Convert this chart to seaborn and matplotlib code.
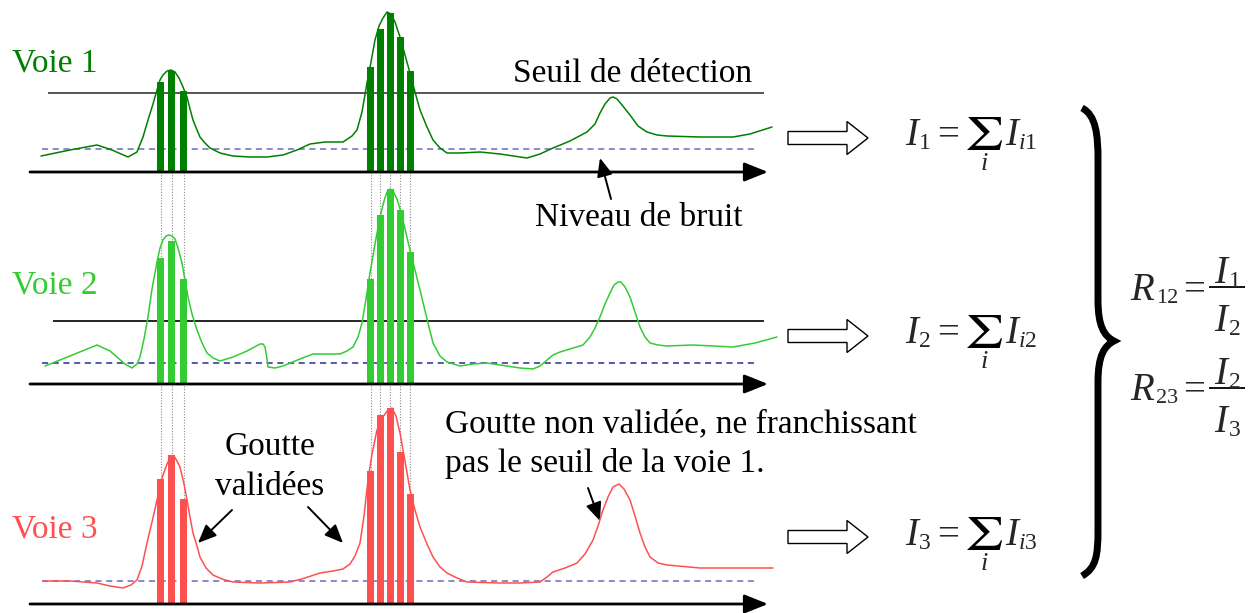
import numpy as np
import matplotlib
matplotlib.use("Agg")
import matplotlib.pyplot as plt
import seaborn as sns
from matplotlib.patches import Polygon, PathPatch
from matplotlib.path import Path
from matplotlib.textpath import TextPath
from matplotlib.font_manager import FontProperties
from matplotlib.transforms import Affine2D

# ---- signal data: time position and signal height above each channel's axis ----
v1_t = [41, 70, 97, 112, 128, 137, 143, 148, 153, 157, 160, 163, 167, 171, 175, 179, 183, 187, 190, 193,
        197, 200, 205, 210, 220, 233, 250, 267, 283, 297, 310, 325, 343, 352, 357, 362, 367, 371, 375, 379,
        383, 387, 391, 395, 400, 405, 410, 415, 420, 427, 433, 440, 447, 460, 480, 500, 527, 540, 553, 570,
        587, 595, 600, 605, 610, 613, 617, 622, 630, 638, 647, 657, 667, 700, 733, 750, 772]
v1_s = [16, 22, 27, 22, 15, 20, 35, 52, 68, 82, 92, 97, 101, 102, 100, 94, 85, 75, 63, 52,
        42, 35, 29, 24, 19, 16, 15, 15, 17, 22, 28, 30, 30, 36, 42, 60, 89, 110, 132, 146,
        154, 160, 158, 150, 135, 117, 99, 80, 62, 45, 32, 24, 19, 19, 20, 18, 14, 18, 24, 31,
        40, 48, 59, 68, 74, 75, 73, 67, 57, 46, 40, 37, 36, 35, 35, 38, 45]

v2_t = [45, 70, 97, 110, 125, 132, 137, 140, 144, 148, 152, 157, 160, 163, 166, 169, 172, 175, 178, 182,
        185, 188, 192, 197, 202, 207, 213, 220, 233, 247, 260, 263, 265, 267, 268, 275, 283, 300, 313, 327,
        340, 347, 353, 358, 362, 366, 370, 375, 380, 384, 387, 390, 393, 397, 401, 405, 410, 415, 420, 427,
        433, 440, 447, 460, 473, 487, 500, 520, 533, 540, 547, 553, 560, 570, 583, 590, 595, 600, 605, 610,
        614, 618, 621, 625, 630, 635, 640, 645, 650, 658, 667, 693, 713, 733, 755, 777]
v2_s = [18, 28, 39, 33, 20, 16, 20, 27, 45, 67, 95, 122, 136, 144, 148, 149, 148, 145, 136, 121,
        104, 87, 70, 54, 41, 31, 26, 23, 27, 33, 40, 40, 37, 25, 17, 16, 18, 25, 30, 30,
        30, 33, 37, 47, 61, 85, 111, 140, 167, 183, 192, 195, 193, 185, 172, 155, 134, 114, 94, 65,
        41, 28, 22, 18, 20, 21, 19, 16, 15, 18, 24, 29, 32, 35, 39, 47, 56, 67, 80, 91,
        99, 102, 102, 97, 87, 72, 57, 47, 41, 39, 38, 39, 38, 37, 41, 47]

v3_t = [43, 70, 97, 110, 123, 131, 137, 142, 147, 152, 157, 160, 163, 167, 171, 174, 177, 180, 184, 187,
        190, 193, 197, 200, 206, 213, 222, 233, 260, 290, 305, 320, 333, 343, 350, 355, 360, 364, 368, 372,
        377, 382, 388, 392, 396, 400, 405, 410, 415, 420, 427, 433, 440, 447, 457, 467, 500, 520, 540, 547,
        553, 565, 577, 585, 593, 598, 603, 608, 613, 619, 624, 630, 635, 640, 645, 650, 658, 667, 700, 740, 773]
v3_s = [23, 23, 21, 18, 16, 19, 24, 38, 61, 82, 104, 117, 129, 140, 148, 148, 143, 137, 120, 104,
        87, 71, 58, 47, 36, 29, 25, 22, 21, 22, 26, 31, 33, 35, 40, 48, 61, 88, 124, 150,
        174, 186, 194, 196, 188, 171, 143, 114, 94, 77, 60, 47, 37, 31, 26, 22, 21, 21, 22, 27,
        32, 36, 41, 50, 64, 78, 94, 107, 117, 120, 115, 104, 88, 71, 57, 47, 41, 39, 36, 36, 36]

# integration windows (droplet samples) and their intensities per channel
drop_t = [160.5, 171.5, 183.5, 370.5, 380.0, 390.0, 400.0, 410.0]
v1_bars = [90, 101, 81, 105, 143, 159, 135, 101]
v2_bars = [126, 143, 105, 105, 169, 195, 174, 132]
v3_bars = [125, 149, 105, 133, 189, 196, 152, 110]

noise_levels = [23, 21, 23]
thresholds = [79, 63, None]
channel_names = ["Voie 1", "Voie 2", "Voie 3"]

# ---- styling ----
sns.set_theme(style="white")
plt.rcParams["font.family"] = ["Liberation Serif", "DejaVu Serif"]

colors = ["#008000", "#33cc33", "#ff5050"]
noise_colors = ["#6b6bb8", "#2a2a9a", "#6b6bb8"]
baselines = [172, 384, 604]
FS = 24
EQ = 28
SUB = 17
W, H = 1255, 613

fig = plt.figure(figsize=(W / 100, H / 100), dpi=100)
bg = fig.add_axes([0, 0, 1, 1])
bg.set_xlim(0, W)
bg.set_ylim(H, 0)
bg.axis("off")

# dotted guides linking each droplet across the three channels
for t in drop_t:
    bg.plot([t, t], [baselines[0], baselines[2]], color="#8a8a8a", lw=0.8, ls=(0, (1, 1.5)), zorder=0)

series = [(v1_t, v1_s, v1_bars), (v2_t, v2_s, v2_bars), (v3_t, v3_s, v3_bars)]
y_lo, y_hi = -12, 198
for i, (t, s, bars) in enumerate(series):
    b = baselines[i]
    ax = fig.add_axes([0, (H - (b - y_lo)) / H, 1, (y_hi - y_lo) / H])
    ax.set_xlim(0, W)
    ax.set_ylim(y_lo, y_hi)
    ax.axis("off")
    ax.patch.set_alpha(0)

    if thresholds[i] is not None:
        x0 = 48 if i == 0 else 53
        ax.hlines(thresholds[i], x0, 764, color="#3a3a3a" if i == 0 else "black", lw=1.2, zorder=1)
    ax.hlines(noise_levels[i], 42, 757, color=noise_colors[i], lw=1.1, ls=(0, (4, 3)), zorder=1)

    ax.bar(drop_t, bars, width=7, color=colors[i], zorder=2, linewidth=0)
    sns.lineplot(x=t, y=s, ax=ax, color=colors[i], lw=1.1, sort=False, estimator=None, zorder=3)

    ax.annotate("", xy=(768, 0), xytext=(30, 0),
                arrowprops=dict(arrowstyle="-|>,head_length=0.8,head_width=0.32", lw=2.0,
                                color="black", shrinkA=0, shrinkB=0, mutation_scale=18), zorder=4)

# channel labels
label_base = [72, 293, 537]
for i, name in enumerate(channel_names):
    bg.text(12, label_base[i], name, color=colors[i], fontsize=FS, va="baseline", ha="left")

# annotations
bg.text(513, 82, "Seuil de détection", fontsize=FS, va="baseline", ha="left", color="black")
bg.text(535, 226, "Niveau de bruit", fontsize=FS, va="baseline", ha="left", color="black")
bg.text(270, 455, "Goutte", fontsize=FS, va="baseline", ha="center", color="black")
bg.text(270, 495, "validées", fontsize=FS, va="baseline", ha="center", color="black")
bg.text(445, 432, "Goutte non validée, ne franchissant", fontsize=FS, va="baseline", ha="left", color="black")
bg.text(445, 472, "pas le seuil de la voie 1.", fontsize=FS, va="baseline", ha="left", color="black")

arrow_kw = dict(arrowstyle="-|>,head_length=0.7,head_width=0.3", lw=1.4, color="black",
                shrinkA=0, shrinkB=0, mutation_scale=16)
for tail, head in [((611, 199), (600, 158)), ((232, 510), (198, 543)),
                   ((308, 507), (343, 543)), ((588, 488), (600, 521))]:
    bg.annotate("", xy=head, xytext=tail, arrowprops=arrow_kw)

# summation sign glyph, stretched into a box
sigma_path = TextPath((0, 0), r"$\sum$", size=40, prop=FontProperties(math_fontfamily="stix"))
sx0, sy0, sw, sh = sigma_path.get_extents().bounds


def draw_sigma(x_left, y_bottom, width, height):
    tr = Affine2D().translate(-sx0, -sy0).scale(width / sw, -height / sh).translate(x_left, y_bottom)
    bg.add_patch(PathPatch(tr.transform_path(sigma_path), facecolor="black", edgecolor="none"))


# hollow block arrows and sums I_k = sum_i I_ik
eq_cy = [138, 336, 537]
eq_base = [145, 343, 545]
for k, cy in enumerate(eq_cy):
    pts = [(788, cy - 6.5), (847, cy - 6.5), (847, cy - 16.5), (868, cy), (847, cy + 16.5),
           (847, cy + 6.5), (788, cy + 6.5)]
    bg.add_patch(Polygon(pts, closed=True, facecolor="white", edgecolor="black", lw=1.0))
    yb = eq_base[k]
    bg.text(905, yb, "I", fontsize=EQ, va="baseline", ha="left", style="italic")
    bg.text(919, yb + 4, str(k + 1), fontsize=SUB, va="baseline", ha="left")
    bg.text(937, yb, "=", fontsize=EQ, va="baseline", ha="left")
    draw_sigma(967, yb + 5, 35, 33)
    bg.text(984, yb + 25, "i", fontsize=19, va="baseline", ha="center", style="italic")
    bg.text(1005, yb, "I", fontsize=EQ, va="baseline", ha="left", style="italic")
    bg.text(1019, yb + 4, "i", fontsize=SUB, va="baseline", ha="left", style="italic")
    bg.text(1025, yb + 4, str(k + 1), fontsize=SUB, va="baseline", ha="left")

# ratios R = I_a / I_b
ratios = [("12", "1", "2", 300, 287), ("23", "2", "3", 400, 388)]
for sub, num, den, yb, bar_y in ratios:
    bg.text(1130, yb, "R", fontsize=EQ, va="baseline", ha="left", style="italic")
    bg.text(1156, yb + 3, sub, fontsize=SUB - 1, va="baseline", ha="left")
    bg.text(1183, yb, "=", fontsize=EQ, va="baseline", ha="left")
    bg.hlines(bar_y, 1209, 1245, color="black", lw=1.3)
    for txt, base in [(num, bar_y - 4), (den, bar_y + 44)]:
        bg.text(1214, base, "I", fontsize=EQ, va="baseline", ha="left", style="italic")
        bg.text(1229, base + 4, txt, fontsize=SUB, va="baseline", ha="left")

# large brace
verts = [(1082, 108), (1096, 115), (1098, 135), (1098, 160),
         (1098, 300),
         (1098, 326), (1104, 336), (1114, 341),
         (1104, 346), (1098, 356), (1098, 382),
         (1098, 530),
         (1098, 556), (1096, 568), (1082, 576)]
codes = [Path.MOVETO, Path.CURVE4, Path.CURVE4, Path.CURVE4,
         Path.LINETO,
         Path.CURVE4, Path.CURVE4, Path.CURVE4,
         Path.CURVE4, Path.CURVE4, Path.CURVE4,
         Path.LINETO,
         Path.CURVE4, Path.CURVE4, Path.CURVE4]
bg.add_patch(PathPatch(Path(verts, codes), facecolor="none", edgecolor="black", lw=5,
                       capstyle="butt", joinstyle="miter"))

fig.savefig("out.png", dpi=100)
